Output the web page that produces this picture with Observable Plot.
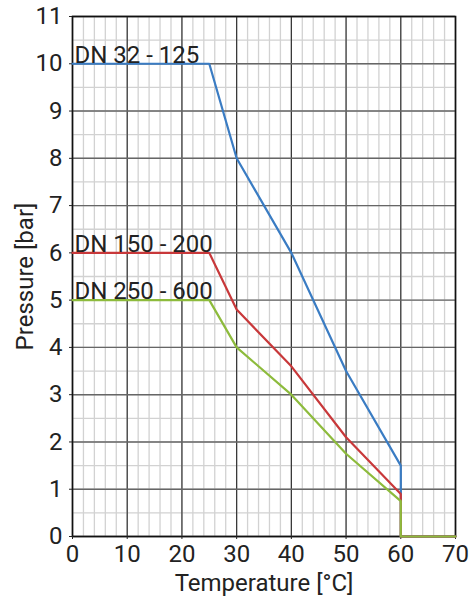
<!DOCTYPE html>
<html><head><meta charset="utf-8">
<script src="https://cdn.jsdelivr.net/npm/d3@7"></script>
<script src="https://cdn.jsdelivr.net/npm/@observablehq/plot@0.6"></script>
<style>body{margin:0;background:#fff}</style>
</head><body><div id="chart"></div>
<script>
const temps = [0, 25, 30, 40, 50, 60, 60, 70];
const dn32 = [10, 10, 8, 6, 3.5, 1.5, 0, 0];
const dn150 = [6, 6, 4.8, 3.6, 2.1, 0.9, 0, 0];
const dn250 = [5, 5, 4, 3, 1.75, 0.75, 0, 0];
const seriesNames = ["DN 32 - 125", "DN 150 - 200", "DN 250 - 600"];
const seriesColors = ["#3a7cc3", "#c8383a", "#8dbb3c"];
const xTicks = [0, 10, 20, 30, 40, 50, 60, 70];
const yTicks = [0, 1, 2, 3, 4, 5, 6, 7, 8, 9, 10, 11];
const xMinor = d3.range(0, 70.01, 2);
const yMinor = d3.range(0, 11.01, 0.5);

const allSeries = [dn32, dn150, dn250];
const rows = allSeries.flatMap((vals, i) => vals.map((v, j) => ({name: seriesNames[i], t: temps[j], p: v})));
const labels = allSeries.map((vals, i) => ({name: seriesNames[i], t: temps[0], p: vals[0]}));

const chart = Plot.plot({
  width: 471, height: 601,
  marginLeft: 72, marginRight: 16, marginTop: 16, marginBottom: 65,
  style: {fontFamily: "Roboto", fontSize: "24px", color: "#222", background: "#fff"},
  x: {domain: [0, 70]},
  y: {domain: [0, 11]},
  color: {domain: seriesNames, range: seriesColors},
  marks: [
    Plot.ruleX(xMinor, {stroke: "#d2d2d2", strokeWidth: 1.3}),
    Plot.ruleY(yMinor, {stroke: "#d2d2d2", strokeWidth: 1.3}),
    Plot.ruleX(xTicks, {stroke: "#333", strokeWidth: 1.2}),
    Plot.ruleY(yTicks, {stroke: "#666", strokeWidth: 1.4}),
    Plot.frame({stroke: "#111", strokeWidth: 1.6}),
    Plot.axisX({ticks: xTicks, tickSize: 3, tickPadding: 5, fontSize: 24, label: "Temperature [°C]", labelAnchor: "center", labelOffset: 54, labelArrow: "none", fill: "#222"}),
    Plot.axisY({ticks: yTicks, tickSize: 3, tickPadding: 7, fontSize: 24, label: "Pressure [bar]", labelAnchor: "center", labelOffset: 57, labelArrow: "none", fill: "#222"}),
    Plot.line(rows, {x: "t", y: "p", z: "name", stroke: "name", strokeWidth: 2.2}),
    Plot.text(labels, {x: "t", y: "p", text: "name", textAnchor: "start", lineAnchor: "bottom", dx: 2, dy: -1, fill: "#222", fontSize: 24})
  ]
});
document.getElementById("chart").append(chart);
</script></body></html>
